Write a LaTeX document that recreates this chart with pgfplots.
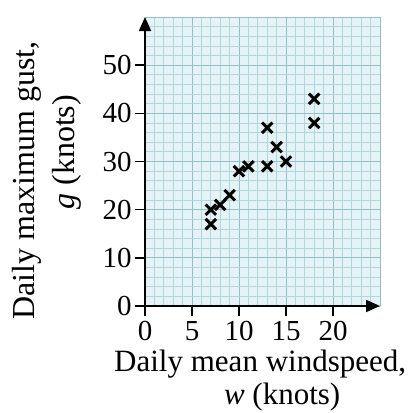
\documentclass[border=0pt]{standalone}
\usepackage{pgfplots}
\pgfplotsset{compat=1.18}
\usetikzlibrary{arrows.meta}
\usepackage{fontspec}
\setmainfont{Liberation Serif}
\definecolor{gridbg}{HTML}{E4F4F6}
\definecolor{gridminor}{HTML}{B3D6DD}
\definecolor{gridmajor}{HTML}{94BFC8}
\begin{document}
\fontsize{16}{19}\selectfont
\begin{tikzpicture}
\useasboundingbox (-72.5pt,-53pt) rectangle (135pt,153pt);
\begin{axis}[
  at={(0,0)}, anchor=south west,
  scale only axis, width=117.5pt, height=144.5pt,
  xmin=0, xmax=25, ymin=0, ymax=60,
  axis lines=left,
  axis line style={line width=0.9pt, -{Triangle[length=7pt,width=6pt]}},
  xtick={0,5,10,15,20}, ytick={0,10,20,30,40,50},
  minor xtick={0,1,...,25}, minor ytick={0,2,...,60},
  extra x ticks={25}, extra y ticks={60},
  extra x tick labels={}, extra y tick labels={},
  extra tick style={major tick length=0pt, grid=major},
  grid=both,
  minor tick length=0pt,
  major tick length=5pt,
  tick align=outside,
  tick style={black, line width=0.8pt},
  major grid style={gridmajor, line width=0.5pt},
  minor grid style={gridminor, line width=0.4pt},
  axis background/.style={fill=gridbg},
  /pgf/number format/assume math mode=true,
  tick label style={font=\fontsize{14.5}{17}\selectfont},
  yticklabel style={inner sep=1.5pt},
  xticklabel style={inner sep=2.5pt},
  xlabel={Daily mean windspeed,\\\hspace*{22pt}\textit{w} (knots)},
  xlabel style={at={(axis description cs:0.49,-0.15)}, anchor=north, align=center, inner sep=0pt, font=\fontsize{15.5}{16.5}\selectfont},
  ylabel={Daily maximum gust,\\\hspace*{28pt}\textit{g} (knots)},
  ylabel style={at={(axis description cs:-0.268,0.435)}, anchor=south, align=center, inner sep=0pt, font=\fontsize{16}{20}\selectfont},
]
\addplot[only marks, mark=x, mark size=3.7pt, line width=1.5pt, black] coordinates {
  (7,17) (7,20) (8,21) (9,23) (10,28) (11,29) (13,29) (13,37) (14,33) (15,30) (18,43) (18,38)
};
\end{axis}
\end{tikzpicture}
\end{document}
